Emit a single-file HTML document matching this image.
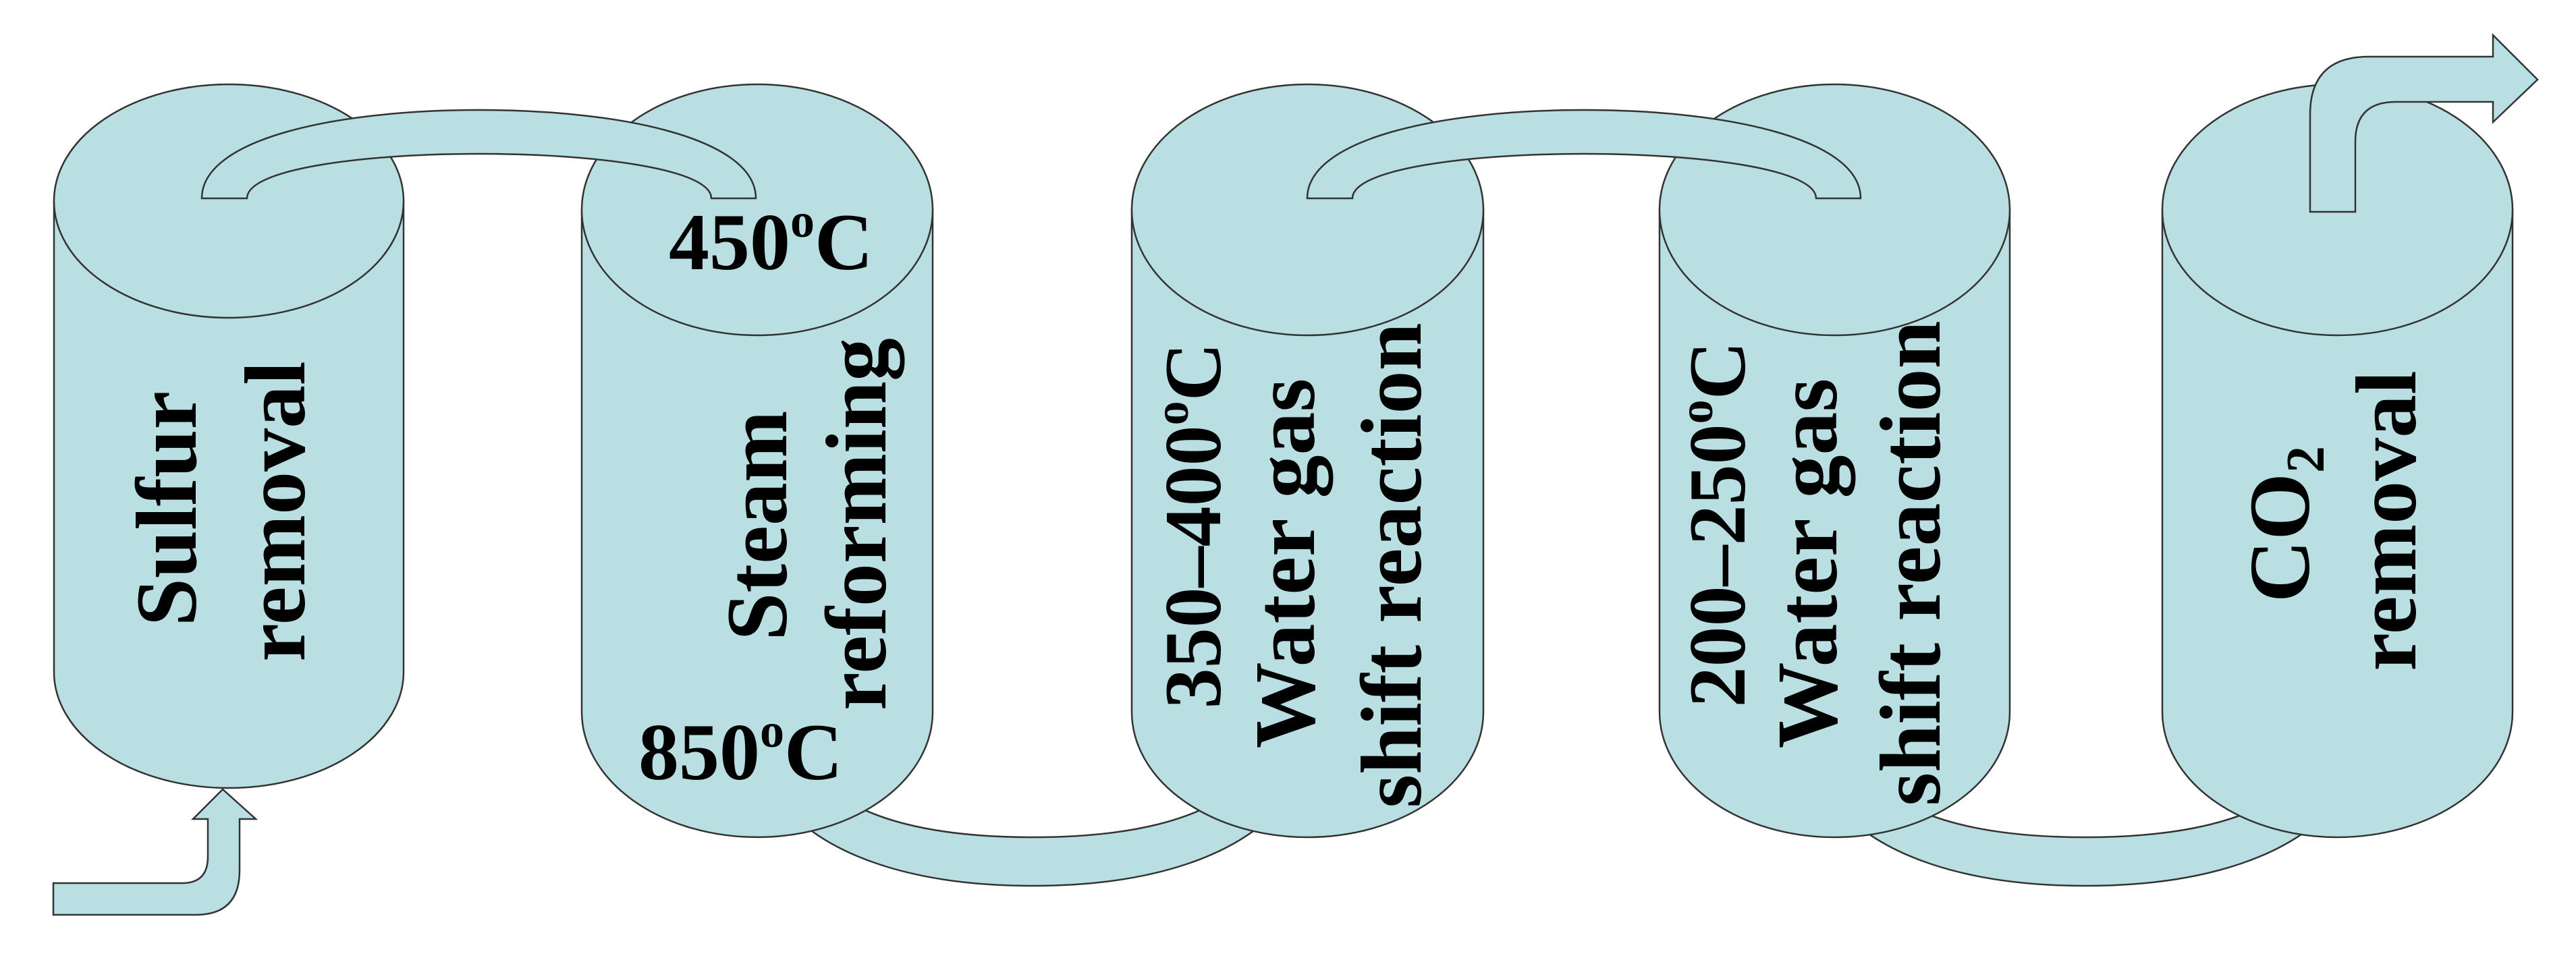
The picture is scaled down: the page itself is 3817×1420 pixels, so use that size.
<!DOCTYPE html>
<html><head><meta charset="utf-8"><style>
html,body{margin:0;padding:0;background:#fff;}
svg{display:block;}
text{font-family:"Liberation Serif",serif;font-weight:bold;fill:#000;}
</style></head><body>
<svg width="3817" height="1420" viewBox="0 0 3817 1420" xmlns="http://www.w3.org/2000/svg">
<g fill="#b9dfe2" stroke="#333" stroke-width="2.5">
<!-- bottom connectors (behind) -->
<path d="M1130,1150 C1200,1280 1380,1313 1530,1313 C1680,1313 1860,1280 1930,1150 L1850,1150 C1790,1220 1660,1241 1530,1241 C1400,1241 1270,1220 1210,1150 Z"/>
<path d="M2690,1150 C2760,1280 2940,1313 3090,1313 C3240,1313 3420,1280 3490,1150 L3410,1150 C3350,1220 3220,1241 3090,1241 C2960,1241 2830,1220 2770,1150 Z"/>
<!-- cylinder 1 -->
<path d="M80,298 L80,996 A259,172 0 0 0 598,996 L598,298 Z"/>
<ellipse cx="339" cy="298" rx="259" ry="173"/>
<!-- cylinder 2 -->
<path d="M862,311 L862,1055 A260,186 0 0 0 1382,1055 L1382,311 Z"/>
<ellipse cx="1122" cy="311" rx="260" ry="186"/>
<!-- cylinder 3 -->
<path d="M1677,311 L1677,1055 A260.5,186 0 0 0 2198,1055 L2198,311 Z"/>
<ellipse cx="1937.5" cy="311" rx="260.5" ry="186"/>
<!-- cylinder 4 -->
<path d="M2459,311 L2459,1055 A259.5,186 0 0 0 2978,1055 L2978,311 Z"/>
<ellipse cx="2718.5" cy="311" rx="259.5" ry="186"/>
<!-- cylinder 5 -->
<path d="M3204,311 L3204,1055 A259.5,186 0 0 0 3723,1055 L3723,311 Z"/>
<ellipse cx="3463.5" cy="311" rx="259.5" ry="186"/>
<!-- top connectors -->
<path d="M299,294 C299,205 500,163 710,163 C920,163 1120,205 1120,294 L1054,294 C1054,250 880,228 710,228 C540,228 366,250 366,294 Z"/>
<path d="M1937,294 C1937,205 2138,163 2347,163 C2556,163 2757,205 2757,294 L2691,294 C2691,250 2517,228 2347,228 C2177,228 2004,250 2004,294 Z"/>
<!-- inlet arrow -->
<path d="M79,1309 L270,1309 Q308,1309 308,1270 L308,1214 L286,1214 L330,1170 L379,1214 L355,1214 L355,1290 Q355,1356 290,1356 L79,1356 Z"/>
<!-- outlet arrow -->
<path d="M3423,314 L3423,170 Q3423,84 3510,84 L3694,84 L3694,52 L3760,118 L3694,181 L3694,151 L3550,151 Q3490,151 3490,210 L3490,314 Z"/>
</g>
<g font-size="128" text-anchor="middle">
<text transform="translate(290,754) rotate(-90)">Sulfur</text>
<text transform="translate(451,758) rotate(-90)">removal</text>
<text transform="translate(1165,779) rotate(-90)">Steam</text>
<text transform="translate(1312,777) rotate(-90)">reforming</text>
<text transform="translate(1808,779) rotate(-90)" font-size="120">350–400<tspan font-size="72" dy="-48">o</tspan><tspan dy="48">C</tspan></text>
<text transform="translate(1947,835) rotate(-90)">Water gas</text>
<text transform="translate(2105,838) rotate(-90)">shift reaction</text>
<text transform="translate(2585,777) rotate(-90)" font-size="120">200–250<tspan font-size="72" dy="-48">o</tspan><tspan dy="48">C</tspan></text>
<text transform="translate(2721,835) rotate(-90)">Water gas</text>
<text transform="translate(2874,835) rotate(-90)">shift reaction</text>
<text transform="translate(3421,777) rotate(-90)">CO<tspan font-size="80" dy="22">2</tspan></text>
<text transform="translate(3579,772) rotate(-90)">removal</text>
</g>
<g font-size="120">
<text x="991" y="399">450<tspan font-size="72" dy="-48">o</tspan><tspan dy="48">C</tspan></text>
<text x="946" y="1155">850<tspan font-size="72" dy="-48">o</tspan><tspan dy="48">C</tspan></text>
</g>
</svg>
</body></html>
